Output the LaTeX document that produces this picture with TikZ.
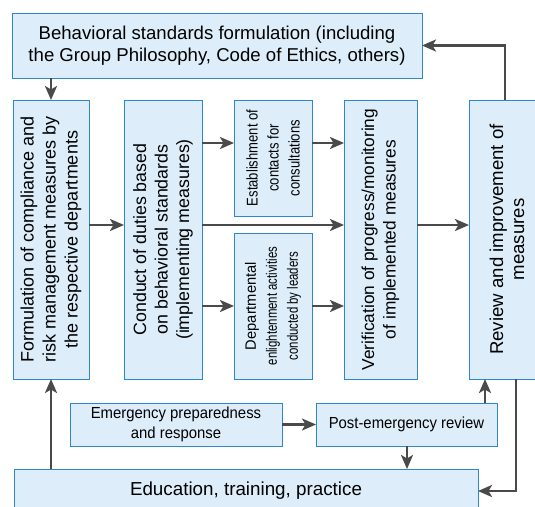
\documentclass[tikz,border=0pt]{standalone}
\usepackage{fontspec}
\setmainfont{Liberation Sans}
\newfontfamily\narrowA[FakeStretch=0.84]{Liberation Sans}
\newfontfamily\narrowB[FakeStretch=0.76]{Liberation Sans}
\newfontfamily\narrowC[FakeStretch=0.93]{Liberation Sans}
\newfontfamily\narrowD[FakeStretch=0.98]{Liberation Sans}
\usetikzlibrary{arrows.meta}
\definecolor{boxfill}{HTML}{DDEEFA}
\definecolor{boxline}{HTML}{2F86D0}
\definecolor{arrgray}{HTML}{4A4A4A}
\begin{document}
\begin{tikzpicture}[x=1pt,y=-1pt,
  box/.style={draw=boxline,fill=boxfill,line width=0.9pt,inner sep=0pt,outer sep=0pt},
  lbl/.style={align=center,inner sep=0pt,text=black},
  arr/.style={draw=arrgray,line width=2.4pt,-{Stealth[length=14pt,width=12pt,inset=3.5pt]}}]
\clip (0,0) rectangle (535,506);
% boxes
\node[box,minimum width=410,minimum height=65] (top) at (217,45.5) {};
\node[box,minimum width=76,minimum height=279] (col1) at (51,239.5) {};
\node[box,minimum width=78,minimum height=279] (col2) at (163,239.5) {};
\node[box,minimum width=78,minimum height=116] (est) at (273,158) {};
\node[box,minimum width=78,minimum height=146] (dep) at (273,306) {};
\node[box,minimum width=73,minimum height=279] (ver) at (380.5,239.5) {};
\node[box,minimum width=76,minimum height=279] (rev) at (507,239.5) {};
\node[box,minimum width=212,minimum height=43] (emer) at (176,424.5) {};
\node[box,minimum width=181,minimum height=43] (post) at (406.5,424.5) {};
\node[box,minimum width=464,minimum height=44] (edu) at (246,491) {};
% labels
\node[lbl,font=\fontsize{18.6}{22}\selectfont] (topt) at (top) {Behavioral standards formulation (including\\the Group Philosophy, Code of Ethics, others)};
\node[lbl,rotate=90,font=\fontsize{18}{22}\selectfont] (col1t) at (col1) {Formulation of compliance and\\risk management measures by\\the respective departments};
\node[lbl,rotate=90,font=\fontsize{17.8}{21.5}\selectfont] (col2t) at (col2) {Conduct of duties based\\on behavioral standards\\(implementing measures)};
\node[lbl,rotate=90,font=\narrowA\fontsize{15.5}{21}\selectfont] (estt) at (est) {Establishment of\\contacts for\\consultations};
\node[lbl,rotate=90,font=\fontsize{15}{21}\selectfont] (dept) at (dep) {{\narrowD Departmental}\\{\narrowB enlightenment activities}\\{\narrowB conducted by leaders}};
\node[lbl,rotate=90,font=\fontsize{17.3}{21.5}\selectfont] (vert) at (ver) {Verification of progress/monitoring\\of implemented measures};
\node[lbl,rotate=90,font=\fontsize{18.6}{21}\selectfont] (revt) at (rev) {Review and improvement of\\measures};
\node[lbl,font=\narrowC\fontsize{16}{20.5}\selectfont] (emert) at (emer) {Emergency preparedness\\and response};
\node[lbl,font=\narrowC\fontsize{16}{20.5}\selectfont] (postt) at (post) {Post-emergency review};
\node[lbl,font=\fontsize{18.8}{22}\selectfont] (edut) at (edu) {Education, training, practice};
% helper coordinates
\coordinate (L143) at (0,143);
\coordinate (L225) at (0,225);
\coordinate (L306) at (0,306);
\coordinate (X505) at (505,0);
\coordinate (X516) at (516,0);
\coordinate (X485) at (485,0);
\coordinate (X407) at (407,0);
% connectors
\draw[arr] (top.south -| col1.north) -- (col1.north);
\draw[arr] (rev.north -| X505) |- (top.east);
\draw[arr] (col1.east |- L225) -- (col2.west |- L225);
\draw[arr] (col2.east |- L143) -- (est.west |- L143);
\draw[arr] (col2.east |- L306) -- (dep.west |- L306);
\draw[arr] (col2.east |- L225) -- (ver.west |- L225);
\draw[arr] (est.east |- L143) -- (ver.west |- L143);
\draw[arr] (dep.east |- L306) -- (ver.west |- L306);
\draw[arr] (ver.east |- L225) -- (rev.west |- L225);
\draw[arr] (emer.east) -- (post.west);
\draw[arr] (post.north -| X485) -- (rev.south -| X485);
\draw[arr] (post.south -| X407) -- (edu.north -| X407);
\draw[arr] (edu.north -| col1.south) -- (col1.south);
\draw[arr] (rev.south -| X516) |- (edu.east);
\end{tikzpicture}
\end{document}
